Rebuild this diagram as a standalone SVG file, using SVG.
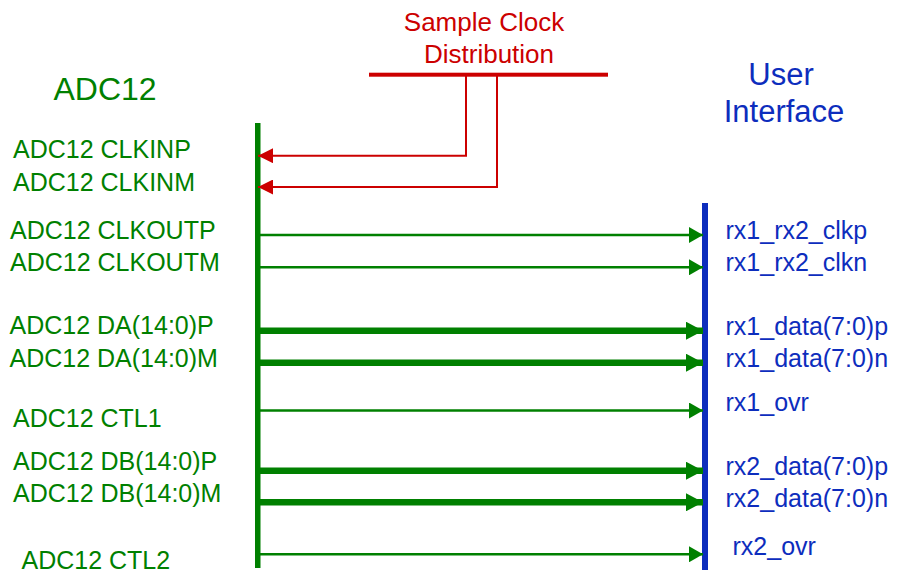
<svg xmlns="http://www.w3.org/2000/svg" width="898" height="573" viewBox="0 0 898 573">
<defs>
<style>
text{font-family:"Liberation Sans",Arial,sans-serif}
.g{fill:#008000;font-size:25px}
.b{fill:#0d2dbd;font-size:25px}
.r{fill:#cc0000;font-size:26px;text-anchor:middle}
.thin{stroke:#008000;stroke-width:2.5;fill:none;marker-end:url(#ah)}
.thick{stroke:#008000;stroke-width:6.5;fill:none;marker-end:url(#ahb)}
.red{stroke:#cc0000;stroke-width:2;fill:none;marker-end:url(#ahr)}
</style>
<marker id="ah" markerUnits="userSpaceOnUse" markerWidth="14" markerHeight="16" refX="14" refY="8" orient="auto"><path d="M0,0 L14,8 L0,16 z" fill="#008000"/></marker>
<marker id="ahb" markerUnits="userSpaceOnUse" markerWidth="17" markerHeight="18" refX="17" refY="9" orient="auto"><path d="M0,0 L17,9 L0,18 z" fill="#008000"/></marker>
<marker id="ahr" markerUnits="userSpaceOnUse" markerWidth="15" markerHeight="15" refX="15" refY="7.5" orient="auto"><path d="M0,0 L15,7.5 L0,15 z" fill="#cc0000"/></marker>
</defs>
<rect width="898" height="573" fill="#ffffff"/>

<g id="clockdist">
<rect x="369" y="72.7" width="239" height="4" fill="#cc0000"/>
<text class="r" x="484" y="31">Sample Clock</text>
<text class="r" x="489" y="63">Distribution</text>
</g>

<g id="adc12">
<rect x="255" y="123" width="5.5" height="445" fill="#008000"/>
<text x="105" y="100" fill="#008000" font-size="32" text-anchor="middle">ADC12</text>
<text class="g" x="13" y="158">ADC12 CLKINP</text>
<text class="g" x="13" y="191">ADC12 CLKINM</text>
<text class="g" x="10" y="239">ADC12 CLKOUTP</text>
<text class="g" x="10" y="271">ADC12 CLKOUTM</text>
<text class="g" x="9.5" y="334">ADC12 DA(14:0)P</text>
<text class="g" x="9.5" y="367">ADC12 DA(14:0)M</text>
<text class="g" x="13" y="427">ADC12 CTL1</text>
<text class="g" x="13" y="470">ADC12 DB(14:0)P</text>
<text class="g" x="13" y="502">ADC12 DB(14:0)M</text>
<text class="g" x="21.5" y="568.5">ADC12 CTL2</text>
</g>

<g id="userif">
<rect x="702" y="203" width="6" height="367" fill="#0d2dbd"/>
<text x="781" y="85" fill="#0d2dbd" font-size="31" text-anchor="middle">User</text>
<text x="784" y="122" fill="#0d2dbd" font-size="31" text-anchor="middle">Interface</text>
<text class="b" x="725.5" y="239">rx1_rx2_clkp</text>
<text class="b" x="725.5" y="271">rx1_rx2_clkn</text>
<text class="b" x="725.5" y="335">rx1_data(7:0)p</text>
<text class="b" x="725.5" y="367">rx1_data(7:0)n</text>
<text class="b" x="725.5" y="411">rx1_ovr</text>
<text class="b" x="725.5" y="475">rx2_data(7:0)p</text>
<text class="b" x="725.5" y="507">rx2_data(7:0)n</text>
<text class="b" x="732.5" y="555">rx2_ovr</text>
</g>

<g id="connectors">
<path class="red" d="M466,76 V155.7 H258"/>
<path class="red" d="M497,76 V187 H258"/>
<path class="thin" d="M260,235 H703"/>
<path class="thin" d="M260,267.3 H703"/>
<path class="thick" d="M260,330.7 H703"/>
<path class="thick" d="M260,362.7 H703"/>
<path class="thin" d="M260,410.5 H703"/>
<path class="thick" d="M260,470.7 H703"/>
<path class="thick" d="M260,502.3 H703"/>
<path class="thin" d="M260,554.3 H703"/>
</g>
</svg>
